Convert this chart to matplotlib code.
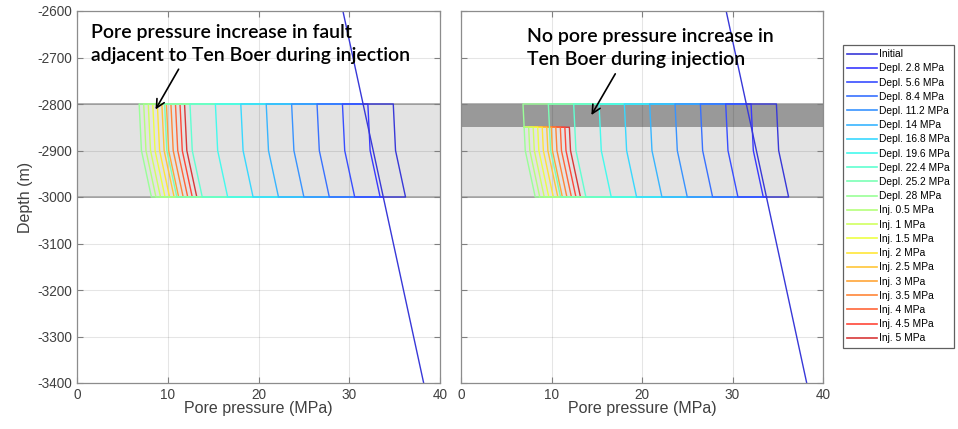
import matplotlib
matplotlib.use("Agg")
import matplotlib.pyplot as plt
import numpy as np

plt.rcParams['font.family'] = ['Liberation Sans', 'DejaVu Sans']
plt.rcParams['axes.unicode_minus'] = False

# Hydrostatic (initial) pore pressure line, depth in m, pressure in MPa
hyd_depth = [-2600, -3400]
hyd_p = [29.3, 38.2]

# Initial reservoir pore pressure at top / middle / base of the reservoir
res_depth = [-2800, -2900, -3000]
res_p_init = [34.85, 35.1, 36.2]

# Load steps
depl_steps = [2.8, 5.6, 8.4, 11.2, 14, 16.8, 19.6, 22.4, 25.2, 28]
inj_steps = [0.5, 1, 1.5, 2, 2.5, 3, 3.5, 4, 4.5, 5]

labels = (["Initial"]
          + [f"Depl. {d:g} MPa" for d in depl_steps]
          + [f"Inj. {i:g} MPa" for i in inj_steps])

top_res, tenboer_base, base_res = -2800, -2850, -3000

# jet colours, lightened a bit
a = 0.78
cols = plt.cm.jet(np.linspace(0.07, 0.93, len(labels)))[:, :3]
cols = 1 - a * (1 - cols)


def hyd_at(z):
    return np.interp(z, hyd_depth[::-1], hyd_p[::-1])


def res_at(z, shift):
    return np.interp(z, res_depth[::-1], res_p_init[::-1]) - shift


fig = plt.figure(figsize=(9.58, 4.29), dpi=100)
ax1 = fig.add_axes([77 / 958, 46 / 429, 363 / 958, 372 / 429])
ax2 = fig.add_axes([461 / 958, 46 / 429, 362 / 958, 372 / 429])

for k, ax in enumerate([ax1, ax2]):
    if k == 0:
        ax.axhspan(base_res, top_res, color='#e3e3e3', lw=0, zorder=0.5)
    else:
        ax.axhspan(tenboer_base, top_res, color='#999999', lw=0, zorder=0.5)
        ax.axhspan(base_res, tenboer_base, color='#e3e3e3', lw=0, zorder=0.5)
    for z in (top_res, base_res):
        ax.axhline(z, color='#a8a8a8', lw=1.2, zorder=0.6)

    # injection profiles, last step first so lower steps sit on top
    d_end = depl_steps[-1]
    for j in range(len(inj_steps) - 1, -1, -1):
        c = cols[1 + len(depl_steps) + j]
        shift = d_end - inj_steps[j]
        if k == 0:
            zz = [top_res] + res_depth + [base_res]
            pp = [hyd_at(top_res)] + [res_at(z, shift) for z in res_depth] + [hyd_at(base_res)]
        else:
            zz = [tenboer_base, tenboer_base, -2900, base_res, base_res]
            pp = [res_at(tenboer_base, d_end), res_at(tenboer_base, shift),
                  res_at(-2900, shift), res_at(base_res, shift), hyd_at(base_res)]
        ax.plot(pp, zz, color=c, lw=1.0, zorder=2)

    # depletion profiles, then initial
    for j in range(len(depl_steps), -1, -1):
        shift = 0 if j == 0 else depl_steps[j - 1]
        zz = [top_res] + res_depth + [base_res]
        pp = [hyd_at(top_res)] + [res_at(z, shift) for z in res_depth] + [hyd_at(base_res)]
        ax.plot(pp, zz, color=cols[j], lw=1.0, zorder=2)

    ax.plot(hyd_p, hyd_depth, color=cols[0], lw=1.0, zorder=2.1)

    ax.set_xlim(0, 40)
    ax.set_ylim(-3400, -2600)
    ax.set_xticks(np.arange(0, 41, 10))
    ax.set_yticks(np.arange(-3400, -2599, 100))
    ax.grid(True, color='k', alpha=0.1, lw=0.8)
    ax.tick_params(direction='in', top=True, right=True, length=4,
                   color='#808080', labelcolor='#404040', labelsize=9.8)
    for s in ax.spines.values():
        s.set_color('#8c8c8c')
        s.set_linewidth(0.9)
    ax.set_xlabel("Pore pressure (MPa)", fontsize=11.5, color='#404040', labelpad=-0.5)

ax2.set_yticklabels([])
ax1.set_ylabel("Depth (m)", fontsize=11.5, color='#404040', labelpad=3)

# legend entries in load order
handles = [plt.Line2D([], [], color=c, lw=1.2) for c in cols]
leg = fig.legend(handles, labels, loc='upper left', bbox_to_anchor=(843 / 958, 1 - 45 / 429),
                 borderaxespad=0, fontsize=7.4, handlelength=2.9, handletextpad=0.2,
                 labelspacing=0.41, borderpad=0.4, fancybox=False, framealpha=1)
leg.get_frame().set_edgecolor('#606060')
leg.get_frame().set_linewidth(0.9)

note_font = dict(family=['Lato', 'DejaVu Sans'], fontsize=14, weight='semibold',
                 color='black', va='top', ha='left', linespacing=1.45)
ax1.text(1.5, -2627, "Pore pressure increase in fault\nadjacent to Ten Boer during injection",
         **note_font, zorder=5)
ax1.annotate("", xy=(8.5, -2817), xytext=(11.35, -2720),
             arrowprops=dict(arrowstyle='->', color='black', lw=1.2,
                             mutation_scale=15), zorder=5)

ax2.text(7.33, -2636, "No pore pressure increase in\nTen Boer during injection",
         **note_font, zorder=5)
ax2.annotate("", xy=(14.25, -2829), xytext=(17.2, -2730),
             arrowprops=dict(arrowstyle='->', color='black', lw=1.2,
                             mutation_scale=15), zorder=5)

fig.savefig("out.png", dpi=100)
